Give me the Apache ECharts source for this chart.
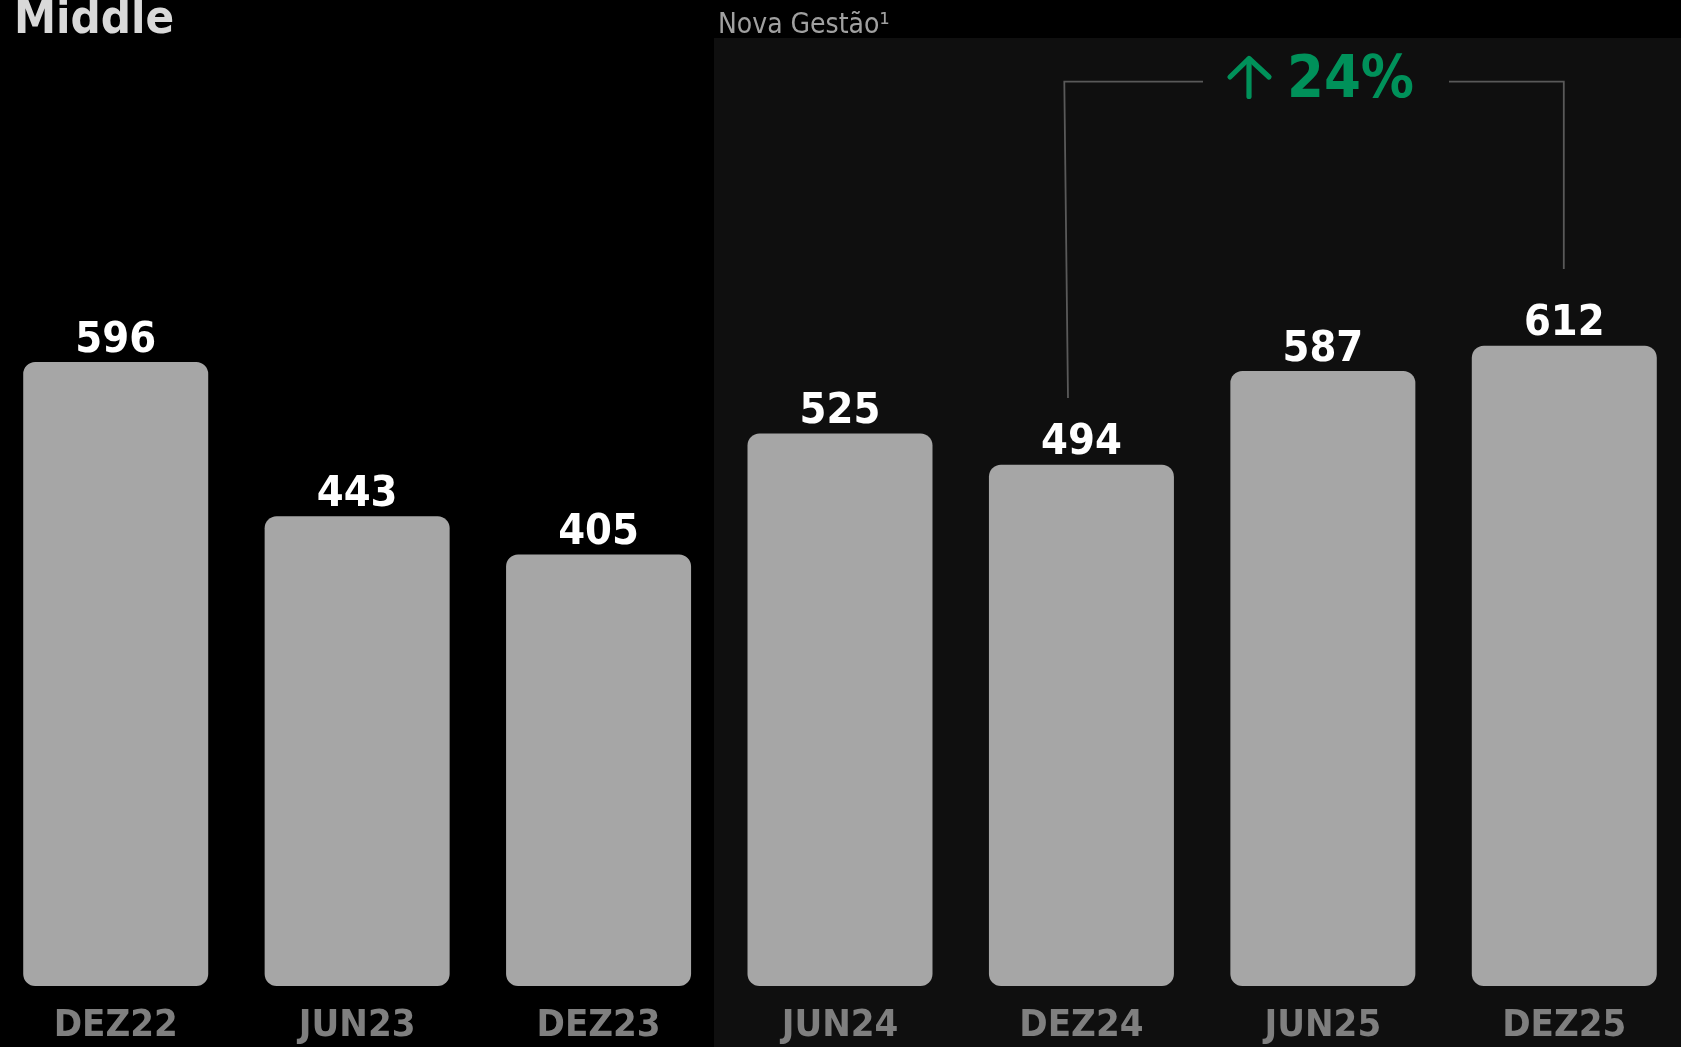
<!DOCTYPE html>
<html><head><meta charset="utf-8">
<script src="https://cdn.jsdelivr.net/npm/echarts@6/dist/echarts.min.js"></script>
<style>html,body{margin:0;padding:0;background:#000;overflow:hidden;width:1681px;height:1047px;position:relative}#c{position:absolute;left:-5px;top:0;width:1690px;height:1047px}</style>
</head><body><div id="c"></div>
<script>
const categories = ['DEZ22', 'JUN23', 'DEZ23', 'JUN24', 'DEZ24', 'JUN25', 'DEZ25'];
const values = [596, 443, 405, 525, 494, 587, 612];
const titleText = 'Middle';
const panelText = 'Nova Gestão¹';
const growthText = '24%';

const COND = "'DejaVu Sans Condensed', 'DejaVu Sans', sans-serif";
const chart = echarts.init(document.getElementById('c'), null, {renderer: 'canvas'});
// chart canvas is shifted 5px left of the page; graphic x values below are in chart coords
const option = {
  backgroundColor: '#000000',
  animation: false,
  grid: {left: 0, right: 0, top: 0, bottom: 61, containLabel: false},
  xAxis: {
    type: 'category', data: categories,
    axisLine: {show: false}, axisTick: {show: false}, splitLine: {show: false},
    axisLabel: {color: '#7f7f7f', fontFamily: COND, fontWeight: 'bold', fontSize: 38, margin: 21}
  },
  yAxis: {
    type: 'value', min: -23, max: 955, startValue: -23, show: false, splitLine: {show: false}
  },
  series: [{
    type: 'bar', data: values, barWidth: 185,
    itemStyle: {color: '#a6a6a6', borderRadius: 12},
    label: {show: true, position: 'top', distance: 0, color: '#ffffff', fontFamily: COND, fontWeight: 'bold', fontSize: 43},
    z: 3
  }],
  graphic: [
    {type: 'rect', z: -10, silent: true, shape: {x: 719, y: 38, width: 1000, height: 1100}, style: {fill: '#0f0f0f'}},
    {type: 'text', z: 5, left: 19, top: -3, style: {text: titleText, fill: '#d9d9d9', font: "bold 47px " + COND}},
    {type: 'text', z: 5, left: 723, top: 12, style: {text: panelText, fill: '#a0a0a0', font: "28px " + COND}},
    {type: 'polyline', z: 5, shape: {points: [[1073, 398], [1069.3, 81.7], [1208, 81.7]]}, style: {stroke: '#595959', lineWidth: 1.8, fill: null}},
    {type: 'polyline', z: 5, shape: {points: [[1454, 81.7], [1568.8, 81.7], [1568.8, 269]]}, style: {stroke: '#595959', lineWidth: 1.8, fill: null}},
    {type: 'polyline', z: 5, shape: {points: [[1254, 96.5], [1254, 59]]}, style: {stroke: '#00915a', lineWidth: 5.2, lineCap: 'round', fill: null}},
    {type: 'polyline', z: 5, shape: {points: [[1235, 77], [1254, 58.5], [1274, 77]]}, style: {stroke: '#00915a', lineWidth: 5.2, lineCap: 'round', lineJoin: 'round', fill: null}},
    {type: 'text', z: 5, left: 1292, top: 52, style: {text: growthText, fill: '#00915a', font: "bold 59px " + COND}}
  ]
};
chart.setOption(option);
</script></body></html>
